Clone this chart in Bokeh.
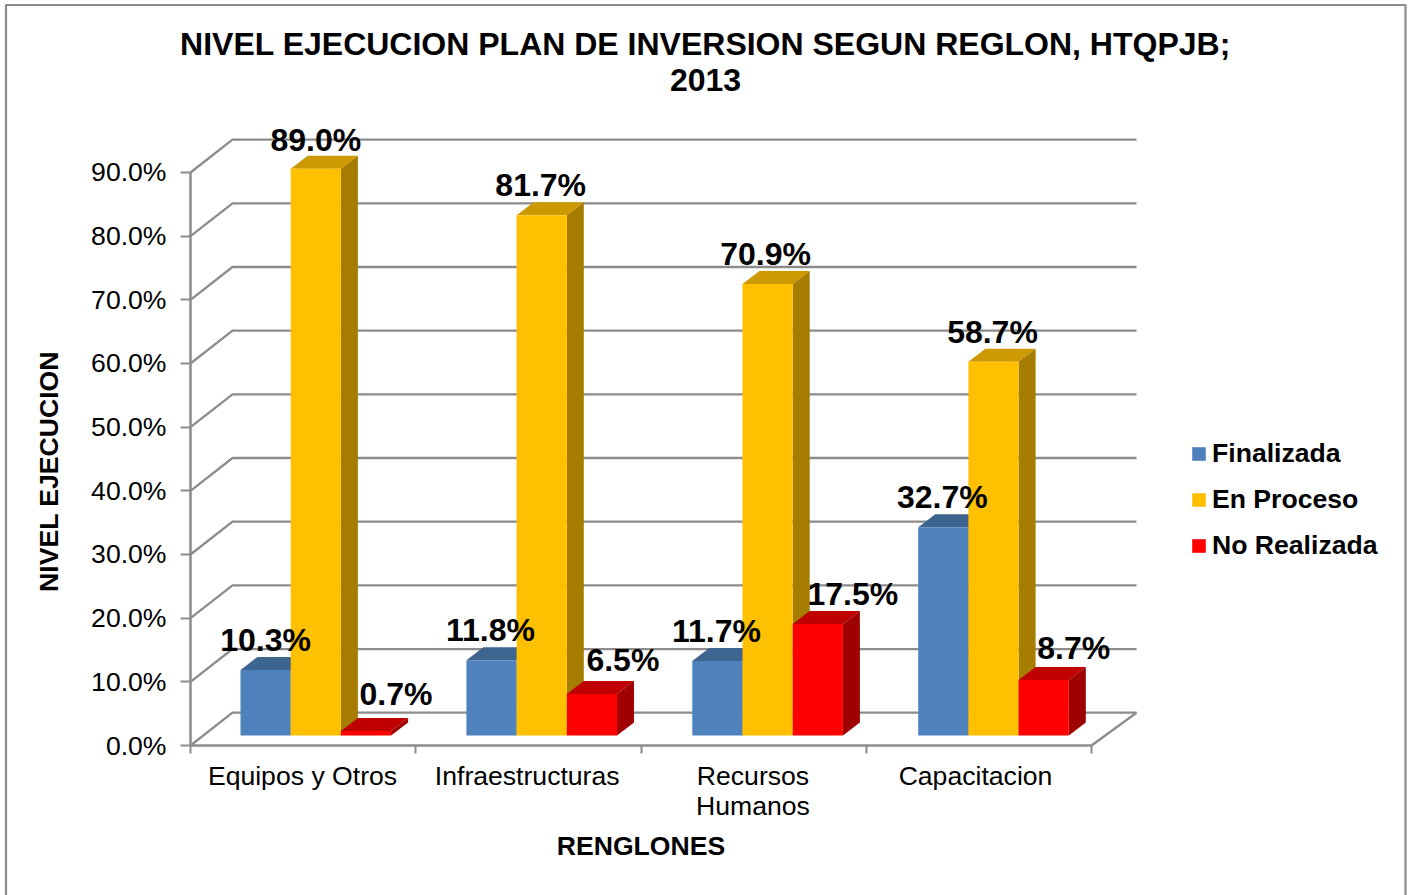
from bokeh.plotting import figure
from bokeh.models import (ColumnDataSource, FixedTicker, Label, Legend, LegendItem,
                          LinearAxis, BoxAnnotation, Range1d)
from bokeh.core.properties import value
from bokeh.embed import file_html
from bokeh.resources import INLINE
import math

categories = ["Equipos y Otros", "Infraestructuras", "Recursos Humanos", "Capacitacion"]
category_labels = ["Equipos y Otros", "Infraestructuras", "Recursos\nHumanos", "Capacitacion"]
finalizada = [10.3, 11.8, 11.7, 32.7]
en_proceso = [89.0, 81.7, 70.9, 58.7]
no_realizada = [0.7, 6.5, 17.5, 8.7]
y_ticks = [0, 10, 20, 30, 40, 50, 60, 70, 80, 90]
y_tick_labels = ["0.0%", "10.0%", "20.0%", "30.0%", "40.0%", "50.0%", "60.0%", "70.0%", "80.0%", "90.0%"]

FONT = "Liberation Sans"
GRAY = "#8c8c8c"
# pixel geometry of the plotting frame
X0, Y0 = 190.0, 745.0        # origin of the front of the floor
PX_CAT = 225.25              # pixels per category
PX_PCT = 6.367               # pixels per percent
W, H = 1412, 895


def dx(px):
    return px / PX_CAT


def dy(px):
    return px / PX_PCT


def X(px):
    return (px - X0) / PX_CAT


def Y(py):
    return (Y0 - py) / PX_PCT


p = figure(width=W, height=H, output_backend="svg", toolbar_location=None,
           x_range=Range1d(X(0), X(W)), y_range=Range1d(Y(H), Y(0)),
           x_axis_type=None, y_axis_type=None,
           min_border=0, margin=(0, 0, 0, 0), outline_line_color=None,
           background_fill_color="white", border_fill_color="white")
p.grid.visible = False

# chart outline
p.add_layout(BoxAnnotation(left=X(5.5), right=X(1405), top=Y(4.5), bottom=Y(905),
                           fill_alpha=0, line_color=GRAY, line_alpha=1, line_width=2.2,
                           level="underlay", editable=False))

# 3-D wall and floor lines
WALL_DX, WALL_DY = dx(42), dy(32.8)
WALL_END = dx(45)
n = len(categories)
xs_grid, ys_grid = [], []
for t in y_ticks:
    xs_grid.append([0, WALL_DX, n + WALL_END])
    ys_grid.append([t, t + WALL_DY, t + WALL_DY])
xs_grid.append([n, n + WALL_END])
ys_grid.append([0, WALL_DY])
p.multi_line(xs_grid, ys_grid, line_color=GRAY, line_width=2.3)

# bars
BAR_W = dx(50.2)
BAR_START = dx(50)
BAR_STEP = dx(225.9)
BASE = dy(10)
DEPTH_X, DEPTH_Y = dx(17), dy(13)
series = [
    ("Finalizada", finalizada, "#4f81bd", "#3e6490", "#2f4f75", 0),
    ("En Proceso", en_proceso, "#ffc000", "#cc9a00", "#a67d00", 1),
    ("No Realizada", no_realizada, "#ff0000", "#c00000", "#9f0000", 2),
]
legend_items = []
for name, vals, front, top, side, k in series:
    left = [i * BAR_STEP + BAR_START + k * BAR_W for i in range(n)]
    right = [l + BAR_W for l in left]
    bottom = [BASE] * n
    tops = [BASE + v for v in vals]
    p.patches([[l, r, r + DEPTH_X, l + DEPTH_X] for l, r in zip(left, right)],
              [[t, t, t + DEPTH_Y, t + DEPTH_Y] for t in tops],
              fill_color=top, line_color=None)
    p.patches([[r, r + DEPTH_X, r + DEPTH_X, r] for r in right],
              [[BASE, BASE + DEPTH_Y, t + DEPTH_Y, t] for t in tops],
              fill_color=side, line_color=None)
    r_front = p.quad(left=left, right=right, bottom=bottom, top=tops,
                     fill_color=front, line_color=None)
    legend_items.append(LegendItem(label=name, renderers=[r_front]))

# data labels (offsets are the hand placement of the reference)
label_offsets = {
    0: ([0, -1, -1, -1], [30, 30, 30, 30]),
    1: ([0, -1, -2, -1], [29, 30, 30, 30]),
    2: ([30, 31, 35, 30], [37, 34, 30, 32]),
}
for name, vals, front, top, side, k in series:
    src = ColumnDataSource(dict(
        x=[i * BAR_STEP + BAR_START + (k + 0.5) * BAR_W for i in range(n)],
        y=[BASE + v for v in vals],
        text=[f"{v:.1f}%" for v in vals],
        xo=label_offsets[k][0],
        yo=[-o for o in label_offsets[k][1]],
    ))
    p.text(x="x", y="y", text="text", x_offset="xo", y_offset="yo", source=src,
           text_align="center", text_baseline="middle", text_color="black",
           text_font=value(FONT), text_font_style="bold", text_font_size="32px")

# axes
yaxis = LinearAxis(ticker=FixedTicker(ticks=y_ticks), bounds=(0, 90), fixed_location=0,
                   major_label_overrides={t: s for t, s in zip(y_ticks, y_tick_labels)},
                   axis_line_color=GRAY, axis_line_width=2.5,
                   major_tick_line_color=GRAY, major_tick_line_width=2,
                   major_tick_in=0, major_tick_out=10, minor_tick_line_color=None,
                   major_label_standoff=14, major_label_text_font=FONT,
                   major_label_text_font_size="26.6px", major_label_text_color="black")
p.add_layout(yaxis, "left")

cat_ticks = [X(302), X(526.7), X(752.5), X(975)]
xaxis = LinearAxis(ticker=FixedTicker(ticks=cat_ticks, minor_ticks=list(range(n + 1))),
                   bounds=(0, n), fixed_location=0,
                   major_label_overrides={t: s for t, s in zip(cat_ticks, category_labels)},
                   axis_line_color=GRAY, axis_line_width=2.5,
                   major_tick_line_color=None, minor_tick_line_color=GRAY,
                   minor_tick_line_width=2, minor_tick_in=0, minor_tick_out=8,
                   major_tick_in=0, major_tick_out=0,
                   major_label_standoff=7, major_label_text_font=FONT,
                   major_label_text_font_size="26.6px", major_label_text_color="black",
                   major_label_text_line_height=1.0,
                   axis_label="RENGLONES", axis_label_text_font=FONT,
                   axis_label_text_font_style="bold", axis_label_text_font_size="26.6px",
                   axis_label_text_color="black", axis_label_standoff=7)
p.add_layout(xaxis, "below")

# title and y axis title
for txt, py in [("NIVEL EJECUCION PLAN DE INVERSION SEGUN REGLON, HTQPJB;", 43), ("2013", 79)]:
    p.add_layout(Label(x=X(705), y=Y(py), text=txt, text_align="center", text_baseline="middle",
                       text_font=FONT, text_font_style="bold", text_font_size="32px",
                       text_color="black"))
p.add_layout(Label(x=X(48), y=Y(471), text="NIVEL EJECUCION", angle=math.pi / 2,
                   text_align="center", text_baseline="middle", text_font=FONT,
                   text_font_style="bold", text_font_size="26.6px", text_color="black"))

legend = Legend(items=legend_items, location=(1190, 895 - 561), orientation="vertical",
                glyph_width=17, glyph_height=17, label_height=27, label_standoff=5,
                spacing=15, padding=0, margin=0, border_line_color=None,
                background_fill_alpha=0, label_text_font=FONT, label_text_font_style="bold",
                label_text_font_size="26.6px", label_text_color="black")
p.add_layout(legend, "center")

open("out.html", "w").write(file_html(p, INLINE))
